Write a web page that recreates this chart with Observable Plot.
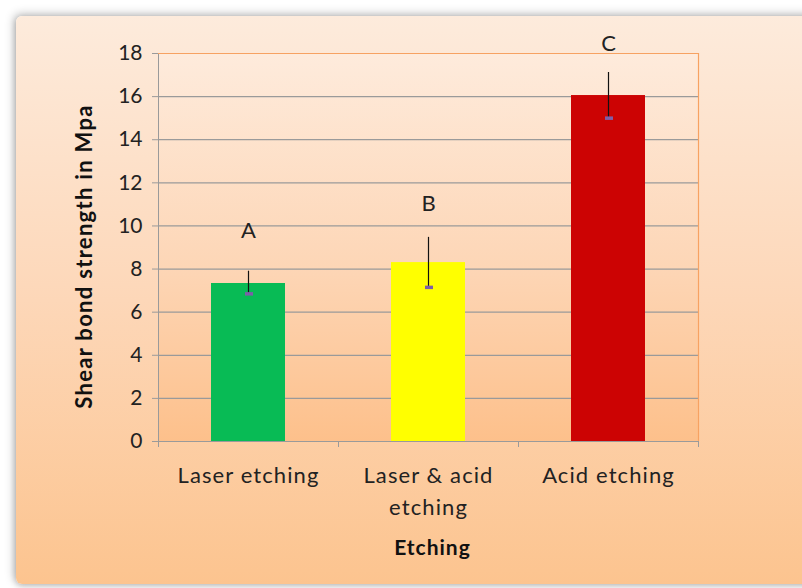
<!DOCTYPE html>
<html>
<head>
<meta charset="utf-8">
<script src="https://cdn.jsdelivr.net/npm/d3@7"></script>
<script src="https://cdn.jsdelivr.net/npm/@observablehq/plot@0.6"></script>
<style>
  html, body { margin: 0; padding: 0; background: #ffffff; }
  body { width: 802px; height: 588px; overflow: hidden; position: relative; font-family: Lato, "Open Sans", sans-serif; }
  #card { position: absolute; left: 16px; top: 16px; width: 810px; height: 568px; border-radius: 6px;
          background: linear-gradient(to bottom, #fdebdc 0%, #fdd7b8 50%, #fcc48f 100%);
          box-shadow: -2px -2px 10px rgba(0,0,0,0.25), 0 2px 6px rgba(0,0,0,0.2); }
  #chart { position: absolute; left: 0; top: 0; }
</style>
</head>
<body>
<div id="card"></div>
<div id="chart"></div>
<script>
const categories = ["Laser etching", "Laser & acid\netching", "Acid etching"];
const means = [7.33, 8.3, 16.05];
const lows = [6.85, 7.15, 15.0];
const highs = [7.9, 9.47, 17.12];
const letters = ["A", "B", "C"];
const letterY = [9.75, 11.0, 18.45];
const colors = ["#08bb55", "#ffff00", "#cc0303"];
const yTicks = [0, 2, 4, 6, 8, 10, 12, 14, 16, 18];
const yLabel = "Shear bond strength in Mpa";
const xLabel = "Etching";

const data = categories.map((c, i) => ({cat: c, mean: means[i], low: lows[i], high: highs[i], letter: letters[i], ly: letterY[i], color: colors[i]}));

const grid = "#9a9a9a";
const orange = "#f7a262";

const chart = Plot.plot({
  width: 802,
  height: 588,
  marginLeft: 158,
  marginRight: 104,
  marginTop: 53,
  marginBottom: 147,
  style: {background: "transparent", fontFamily: "Lato, 'Open Sans', sans-serif", color: "#222"},
  x: {domain: categories, paddingInner: 0.59, paddingOuter: 0.295, label: null},
  y: {domain: [0, 18], ticks: yTicks, label: null},
  color: {type: "identity"},
  marks: [
    Plot.frame({fill: "url(#plotgrad)", stroke: grid}),
    Plot.gridY(yTicks, {stroke: grid, strokeOpacity: 1, strokeWidth: 1.2}),
    Plot.ruleY([18], {stroke: orange, strokeWidth: 1.2}),
    Plot.ruleX([categories[2]], {x: d => d, y1: 0, y2: 18, dx: 90, stroke: orange, strokeWidth: 1.2}),
    Plot.barY(data, {x: "cat", y: "mean", fill: "color"}),
    Plot.ruleX(data, {x: "cat", y1: "low", y2: "high", stroke: "#111", strokeWidth: 1.2}),
    Plot.tickY(data, {x: "cat", y: "low", stroke: "#7d5fa8", strokeWidth: 3.5, insetLeft: 34, insetRight: 32}),
    Plot.text(data, {x: "cat", y: "ly", text: "letter", fontSize: 22, fill: "#222"}),
    Plot.ruleY([0], {stroke: grid, strokeWidth: 1.2}),
    Plot.ruleX(categories, {x: d => d, y1: 0, y2: 0, dx: -90, insetBottom: -6, stroke: grid}),
    Plot.ruleX([categories[2]], {x: d => d, y1: 0, y2: 0, dx: 90, insetBottom: -6, stroke: grid}),
    Plot.axisY({ticks: yTicks, tickSize: 6, tickPadding: 10, fontSize: 21, stroke: grid, label: null, fill: "#222"}),
    Plot.axisX({tickSize: 0, tickPadding: 19, fontSize: 22, lineHeight: 1.45, label: null, fill: "#222"}),
    Plot.text([yLabel], {frameAnchor: "left", textAnchor: "middle", dx: -74, dy: 9, rotate: -90, fontSize: 22, fontWeight: "bold", fill: "#111"}),
    Plot.text([xLabel], {frameAnchor: "bottom", dx: 4, dy: 113, fontSize: 21, fontWeight: "bold", fill: "#111"})
  ]
});

const svg = d3.select(chart);
const defs = svg.insert("defs", ":first-child");
const g = defs.append("linearGradient").attr("id", "plotgrad").attr("x1", 0).attr("y1", 0).attr("x2", 0).attr("y2", 1);
g.append("stop").attr("offset", "0%").attr("stop-color", "#feebdc");
g.append("stop").attr("offset", "55%").attr("stop-color", "#fdd6b6");
g.append("stop").attr("offset", "100%").attr("stop-color", "#fdc08b");

svg.selectAll("g[aria-label='frame']").style("filter", "drop-shadow(1px 4px 3px rgba(0,0,0,0.35))");
svg.selectAll("g[aria-label='x-axis tick label'] text").style("letter-spacing", "1.1px");
svg.selectAll("text").filter(function() { return this.textContent === yLabel; }).style("letter-spacing", "1.3px");
svg.selectAll("text").filter(function() { return this.textContent === xLabel; }).style("letter-spacing", "1px");

document.getElementById("chart").appendChild(chart);
</script>
</body>
</html>
